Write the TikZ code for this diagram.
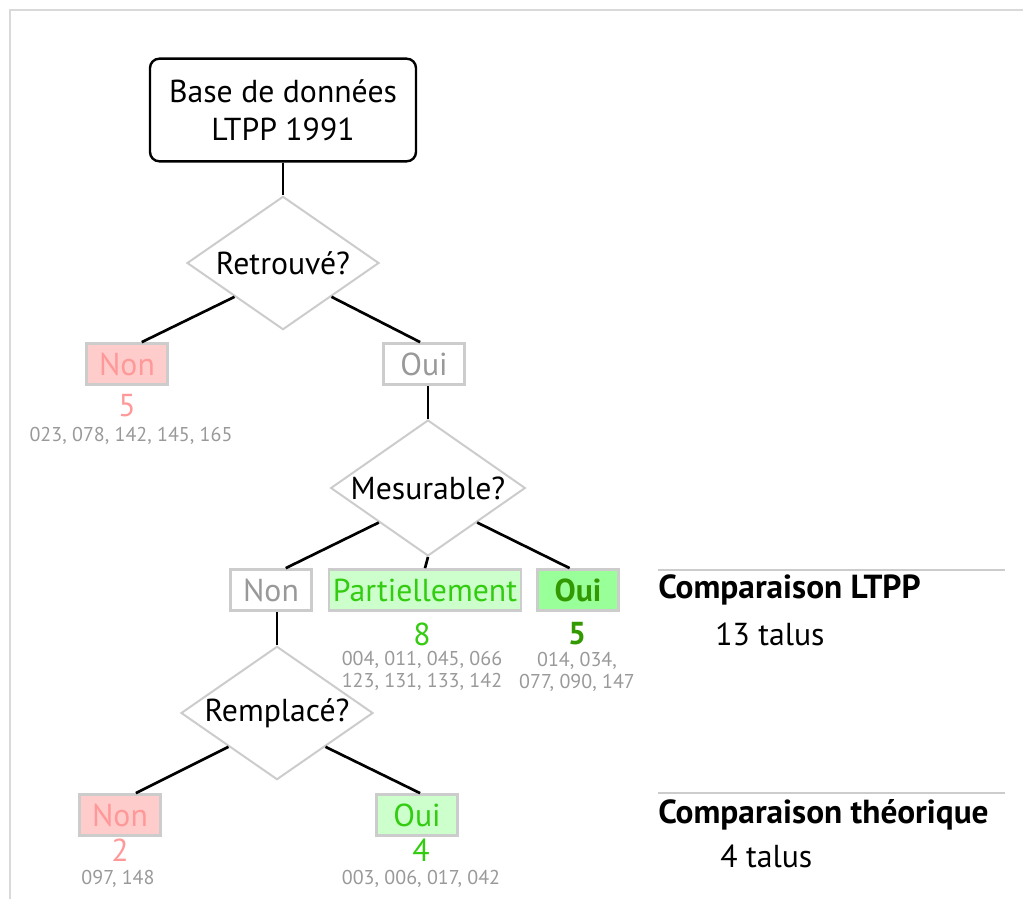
\documentclass[tikz,border=0pt]{standalone}
\usepackage{fontspec}
\setmainfont{PT Sans}
\usetikzlibrary{shapes.geometric}

\definecolor{framegray}{HTML}{D9D9D9}
\definecolor{boxgray}{HTML}{CCCCCC}
\definecolor{textgray}{HTML}{999999}
\definecolor{nonfill}{HTML}{FFCCCC}
\definecolor{nontext}{HTML}{FF9999}
\definecolor{partfill}{HTML}{CCFFCC}
\definecolor{parttext}{HTML}{33CC11}
\definecolor{ouifill}{HTML}{99FF99}
\definecolor{ouitext}{HTML}{339900}

\newcommand{\bigtxt}{\fontsize{23.8}{28.5}\selectfont}
\newcommand{\smalltxt}{\fontsize{15}{16.5}\selectfont}
\newcommand{\headtxt}{\fontsize{25}{28}\selectfont}

\tikzset{
  startbox/.style={draw, rounded corners=7pt, line width=1.8pt, align=center,
    minimum width=199.5pt, minimum height=77pt, font=\bigtxt},
  question/.style={diamond, draw=boxgray, line width=1.5pt, aspect=1.45,
    minimum width=144pt, minimum height=100pt, inner xsep=-10pt,
    inner ysep=-4pt, font=\bigtxt},
  answer/.style={draw=boxgray, line width=1.8pt, minimum width=61pt,
    minimum height=31pt, inner xsep=3pt, inner ysep=0pt, font=\bigtxt},
  nonbox/.style={answer, fill=nonfill, text=nontext},
  greybox/.style={answer, fill=white, text=textgray},
  partbox/.style={answer, fill=partfill, text=parttext},
  ouibox/.style={answer, fill=ouifill, text=ouitext, font=\bigtxt\bfseries},
  count/.style={font=\bigtxt, inner sep=0pt},
  ids/.style={font=\smalltxt, text=textgray, align=center, inner sep=0pt},
  link/.style={line width=2pt},
  rule/.style={draw=boxgray, line width=1.5pt}
}

\begin{document}
\begin{tikzpicture}[x=0.75pt, y=-0.75pt]
    \useasboundingbox (0,0) rectangle (1023,899);
    \draw[framegray, line width=2.2pt] (10,899) -- (10,10) -- (1023,10);

    \node[startbox] (base) at (283,110) {Base de données\\LTPP 1991};
    \node[question] (ret) at (283,263) {Retrouvé?};
    \node[nonbox] (non1) at (127,364) {Non};
    \node[greybox] (oui1) at (424,364) {Oui};
    \node[count, text=nontext] (n1) at (127,406) {5};
    \node[ids] (l1) at (131,436) {023, 078, 142, 145, 165};

    \node[question, minimum width=146pt, minimum height=102pt] (mes) at (428,488) {Mesurable?};
    \node[greybox] (non2) at (271,590) {Non};
    \node[partbox] (part) at (425,590) {Partiellement};
    \node[ouibox] (oui2) at (578,590) {Oui};
    \node[count, text=parttext] (n2) at (422,634) {8};
    \node[ids] (l2) at (422,671) {004, 011, 045, 066\\123, 131, 133, 142};
    \node[count, text=ouitext, font=\bigtxt\bfseries] (n3) at (577,634) {5};
    \node[ids] (l3) at (577,672) {014, 034,\\077, 090, 147};

    \node[question] (rem) at (277,713) {Remplacé?};
    \node[nonbox] (non3) at (120,815) {Non};
    \node[partbox] (oui3) at (417,815) {Oui};
    \node[count, text=nontext] (n4) at (120,850) {2};
    \node[ids] (l4) at (118,879) {097, 148};
    \node[count, text=parttext] (n5) at (421,850) {4};
    \node[ids] (l5) at (421,879) {003, 006, 017, 042};

    \draw[link] (base.south) -- (ret.north);
    \draw[link] (ret.south west) -- (non1.56);
    \draw[link] (ret.south east) -- (oui1.100);
    \draw[link] (mes.north) -- (mes.north |- oui1.south);
    \draw[link] (mes.south west) -- (non2.56);
    \draw[link] (mes.south) -- (part.north);
    \draw[link] (mes.south east) -- (oui2.111);
    \draw[link] (rem.north) -- (rem.north |- non2.south);
    \draw[link] (rem.south west) -- (non3.54);
    \draw[link] (rem.south east) -- (oui3.82);

    \draw[rule] (658,570) -- (1005,570);
    \node[anchor=west, font=\headtxt\bfseries, inner sep=0pt] (cmp1) at (658,590) {Comparaison LTPP};
    \node[anchor=west, font=\bigtxt, inner sep=0pt] (tal1) at (715,634) {13 talus};
    \draw[rule] (658,793) -- (1005,793);
    \node[anchor=west, font=\headtxt\bfseries, inner sep=0pt] (cmp2) at (658,815) {Comparaison théorique};
    \node[anchor=west, font=\bigtxt, inner sep=0pt] (tal2) at (720,856) {4 talus};
\end{tikzpicture}
\end{document}
